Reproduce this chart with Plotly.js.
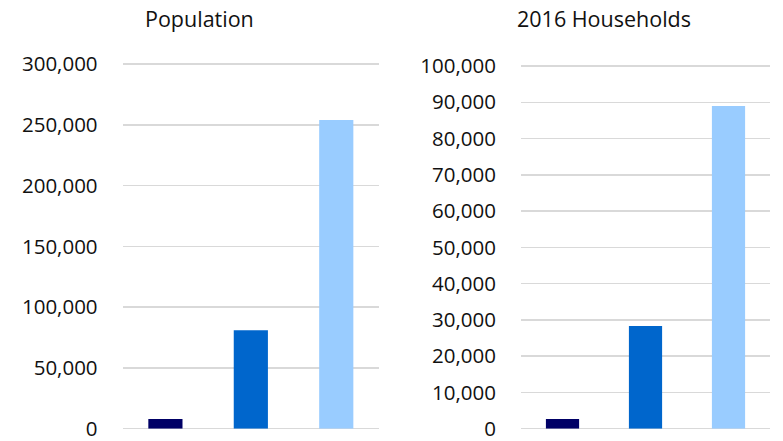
<!DOCTYPE html>
<html>
<head>
<meta charset="utf-8">
<script src="https://cdn.plot.ly/plotly-3.0.1.min.js"></script>
<style>html,body{margin:0;padding:0;background:#fff;}#chart{width:783px;height:441px;}</style>
</head>
<body>
<div id="chart"></div>
<script>
var categories = ["Area 1", "Area 2", "Area 3"];
var population = [8000, 81000, 254000];
var households2016 = [2700, 28300, 89000];
var barColors = ["#000066", "#0066CC", "#99CCFF"];
var popTicks = [0, 50000, 100000, 150000, 200000, 250000, 300000];
var hhTicks = [0, 10000, 20000, 30000, 40000, 50000, 60000, 70000, 80000, 90000, 100000];

var fontFam = "'Open Sans', sans-serif";

var traces = [
  {type: "bar", x: categories, y: population, marker: {color: barColors}, xaxis: "x", yaxis: "y", hoverinfo: "none"},
  {type: "bar", x: categories, y: households2016, marker: {color: barColors}, xaxis: "x2", yaxis: "y2", hoverinfo: "none"}
];

function yax(ticks, domain, maxv) {
  return {
    domain: domain,
    range: [0, maxv],
    tickvals: ticks,
    tickformat: ",d",
    showgrid: true,
    gridcolor: "#d9d9d9",
    gridwidth: 1.5,
    zeroline: true,
    zerolinecolor: "#d9d9d9",
    zerolinewidth: 1.5,
    showline: false,
    ticks: "outside",
    ticklen: 20,
    tickcolor: "rgba(0,0,0,0)",
    ticklabeloverflow: "allow",
    tickfont: {family: fontFam, size: 20.5, color: "#111"},
    fixedrange: true
  };
}
function xax(domain, anchor) {
  return {
    domain: domain,
    anchor: anchor,
    showticklabels: false,
    showgrid: false,
    zeroline: false,
    showline: false,
    ticks: "",
    fixedrange: true
  };
}

var layout = {
  width: 783,
  height: 441,
  margin: {l: 0, r: 0, t: 0, b: 0},
  paper_bgcolor: "#fff",
  plot_bgcolor: "#fff",
  showlegend: false,
  bargap: 0.6,
  xaxis: xax([0.1567, 0.484], "y"),
  yaxis: Object.assign(yax(popTicks, [0.0279, 0.8576], 301000), {anchor: "x"}),
  xaxis2: xax([0.6654, 0.9834], "y2"),
  yaxis2: Object.assign(yax(hhTicks, [0.0279, 0.8528], 100300), {anchor: "x2"}),
  annotations: [
    {text: "Population", xref: "paper", yref: "paper", x: 0.2554, y: 1 - 18/441, xanchor: "center", yanchor: "middle", showarrow: false, font: {family: fontFam, size: 21.5, color: "#111"}},
    {text: "2016 Households", xref: "paper", yref: "paper", x: 0.7714, y: 1 - 18/441, xanchor: "center", yanchor: "middle", showarrow: false, font: {family: fontFam, size: 21.5, color: "#111"}}
  ]
};

Plotly.newPlot("chart", traces, layout, {displayModeBar: false, staticPlot: true});
</script>
</body>
</html>
